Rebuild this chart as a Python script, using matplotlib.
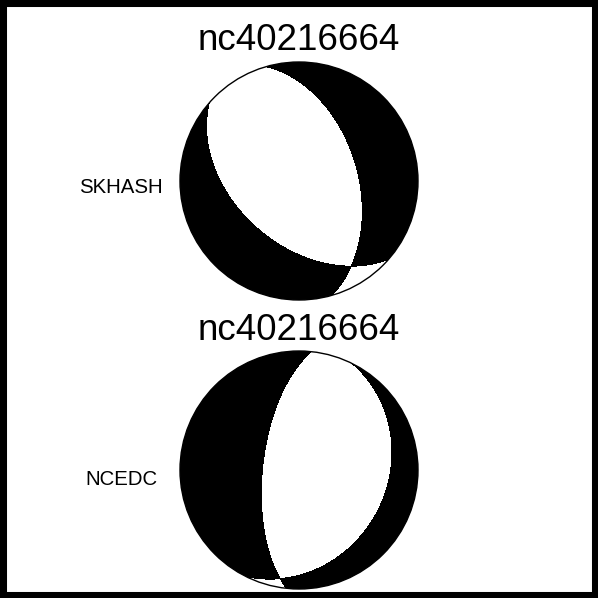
import numpy as np
import matplotlib
matplotlib.use('Agg')
import matplotlib.pyplot as plt
from matplotlib.patches import Circle, Rectangle

# focal mechanisms for one event, two catalogues
EVENTS = ["nc40216664", "nc40216664"]
SOURCES = ["SKHASH", "NCEDC"]
STRIKES = [344, 186]
DIPS = [49, 65]
RAKES = [-67, -99]

W = 598  # figure size in pixels
CX = 299  # ball centre x (px)
CENTRES_Y = [181, 470]  # ball centre y (px from top)
R = 119  # ball radius (px)
PAD = 1.03


def p_amplitude(strike, dip, rake, x, y):
    # P radiation sign on lower hemisphere, equal-area projection
    r = np.hypot(x, y)
    theta = 2 * np.arcsin(np.clip(r / np.sqrt(2), 0, 1))
    az = np.arctan2(x, y)
    v = np.array([np.sin(theta) * np.cos(az),
                  np.sin(theta) * np.sin(az),
                  np.cos(theta)])
    phi, delta, lam = np.radians([strike, dip, rake])
    n = np.array([-np.sin(delta) * np.sin(phi),
                  np.sin(delta) * np.cos(phi),
                  -np.cos(delta)])
    u = np.array([np.cos(lam) * np.cos(phi) + np.sin(lam) * np.cos(delta) * np.sin(phi),
                  np.cos(lam) * np.sin(phi) - np.sin(lam) * np.cos(delta) * np.cos(phi),
                  -np.sin(lam) * np.sin(delta)])
    nv = np.tensordot(n, v, axes=1)
    uv = np.tensordot(u, v, axes=1)
    return nv * uv


def draw_beachball(ax, strike, dip, rake):
    g = np.linspace(-1.05, 1.05, 900)
    X, Y = np.meshgrid(g, g)
    A = p_amplitude(strike, dip, rake, X, Y)
    disk = Circle((0, 0), 1, facecolor='white', edgecolor='none', zorder=0)
    ax.add_patch(disk)
    cs = ax.contourf(X, Y, A, levels=[0, A.max() + 1], colors='black', zorder=1)
    cs.set_clip_path(disk)
    ax.add_patch(Circle((0, 0), 1, fill=False, edgecolor='black', lw=1.0, zorder=2))


fig = plt.figure(figsize=(W / 100, W / 100), dpi=100)
fig.patch.set_facecolor('white')

title_base = [50.5, 339.5]
label_base = [193, 485]

for i in range(len(EVENTS)):
    cy = CENTRES_Y[i]
    half = R * PAD
    ax = fig.add_axes([(CX - half) / W, (W - cy - half) / W, 2 * half / W, 2 * half / W])
    ax.set_xlim(-PAD, PAD)
    ax.set_ylim(-PAD, PAD)
    ax.set_aspect('equal')
    ax.axis('off')
    draw_beachball(ax, STRIKES[i], DIPS[i], RAKES[i])

    fig.text(CX / W, 1 - title_base[i] / W, EVENTS[i], ha='center', va='baseline',
             fontsize=26.5, family='Liberation Sans')
    fig.text(121 / W, 1 - label_base[i] / W, SOURCES[i], ha='center', va='baseline',
             fontsize=14.7, family='Liberation Sans')

# thick frame round the figure
fig.patches.append(Rectangle((0, 0), 1, 1, transform=fig.transFigure, fill=False,
                             edgecolor='black', lw=9.4, zorder=10))

fig.savefig('out.png', dpi=100)
